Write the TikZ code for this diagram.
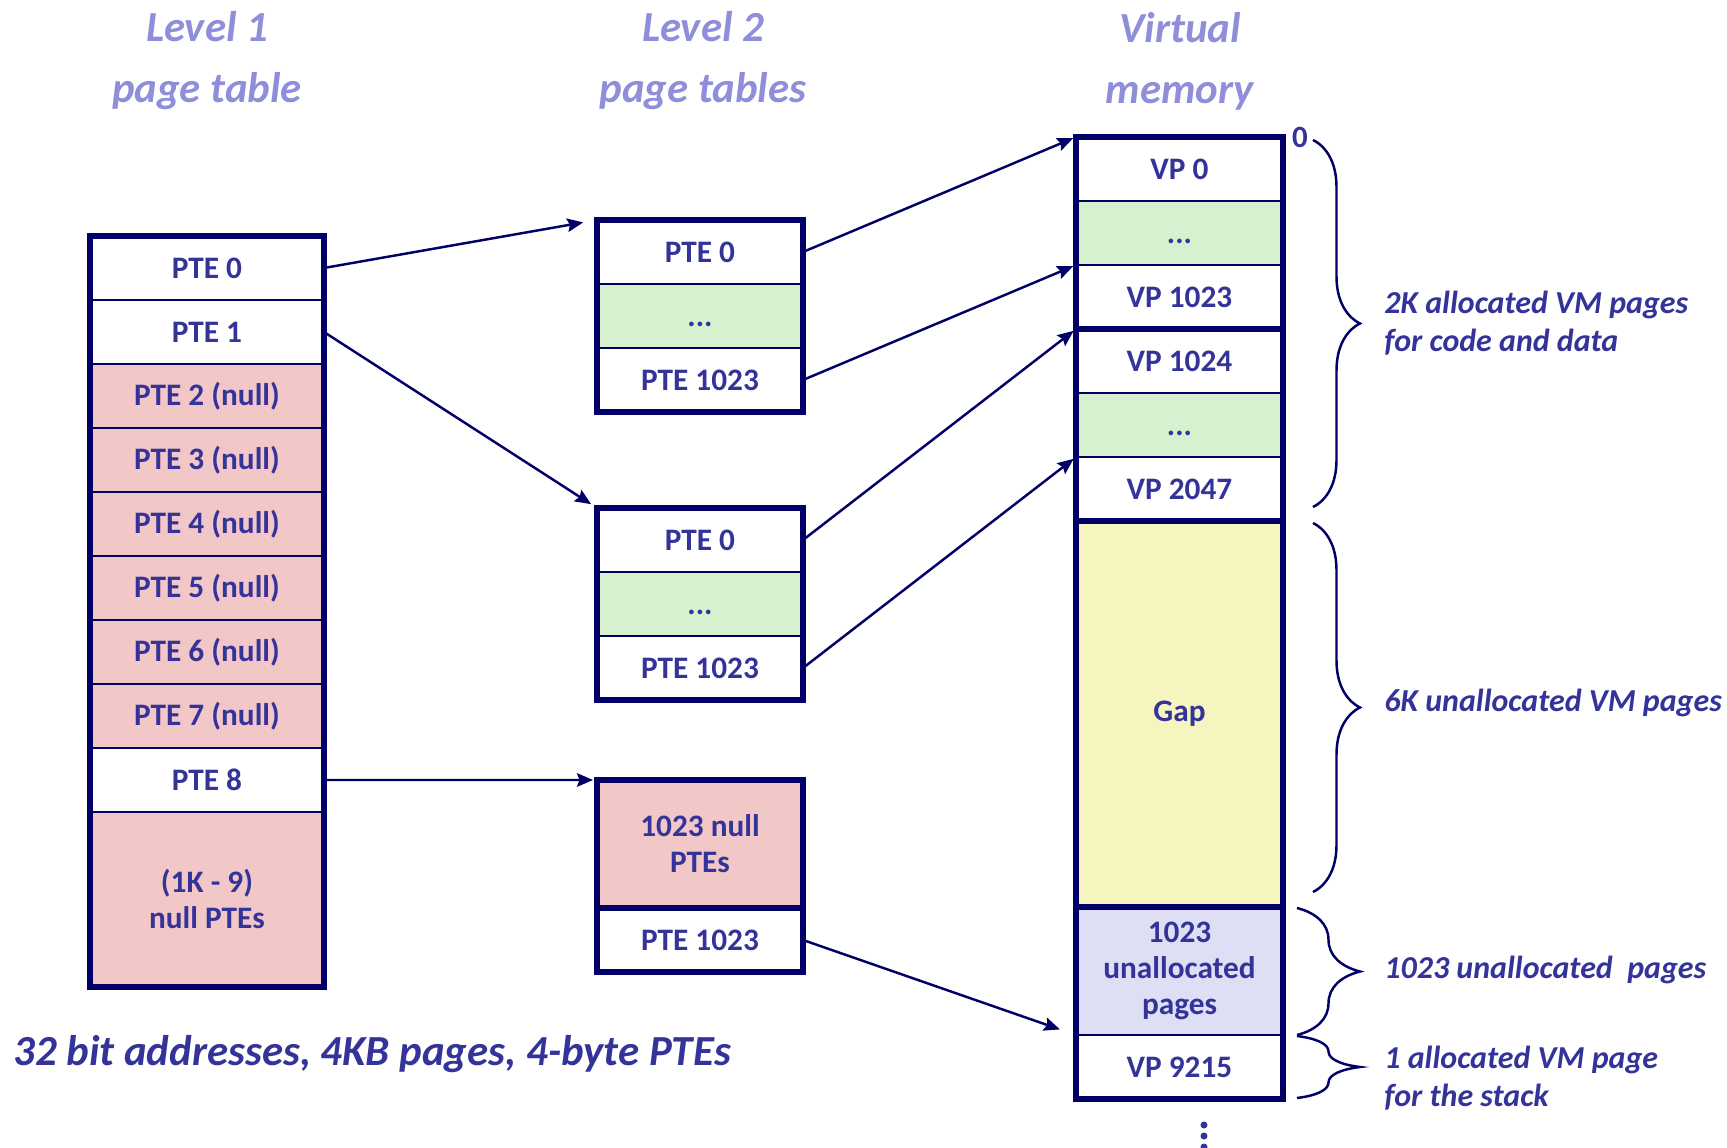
\documentclass[tikz,border=0pt]{standalone}
\usepackage{fontspec}
\setmainfont{Carlito}
\usetikzlibrary{arrows.meta,decorations.pathreplacing}

\definecolor{navy}{HTML}{000066}
\definecolor{txtblue}{HTML}{333399}
\definecolor{headblue}{HTML}{8E8EDA}
\definecolor{nullpink}{HTML}{F2C7C7}
\definecolor{dotsgreen}{HTML}{D6F0D0}
\definecolor{gapyellow}{HTML}{F6F5BF}
\definecolor{unallocblue}{HTML}{DEDEF4}

\newcommand{\skipdots}{\vphantom{P}...}

\tikzset{
  cell/.style={draw=navy, line width=1.5pt, text=txtblue, anchor=north west,
    inner sep=0pt, outer sep=0pt, align=center,
    font=\bfseries\fontsize{17.8}{20.5}\selectfont},
  l1cell/.style={cell, minimum width=4.68cm, minimum height=1.28cm},
  l2cell/.style={cell, minimum width=4.12cm, minimum height=1.28cm},
  vmcell/.style={cell, minimum width=4.14cm, minimum height=1.28cm},
  tblframe/.style={draw=navy, line width=3.7pt},
  link/.style={draw=navy, line width=1.4pt,
    -{Stealth[length=0.32cm, width=0.27cm, inset=0.05cm]}},
  vmbrace/.style={draw=navy, line width=1.4pt, decorate},
  head/.style={text=headblue, align=center,
    font=\bfseries\itshape\fontsize{24.4}{34.7}\selectfont},
  note/.style={text=txtblue, anchor=west, align=left, inner sep=0pt,
    font=\bfseries\itshape\fontsize{18.2}{21.6}\selectfont}
}

\begin{document}
\begin{tikzpicture}[x=0.02cm, y=-0.02cm]
  \useasboundingbox (0,0) rectangle (1727,1148);

  % column titles
  \node[head] (head1) at (207,61) {Level 1\\page table};
  \node[head] (head2) at (703,61) {Level 2\\page tables};
  \node[head] (head3) at (1180,61) {Virtual\\memory};

  % level 1 page table
  \node[l1cell] (l1p0) at (90,236) {PTE 0};
  \node[l1cell] (l1p1) at (90,300) {PTE 1};
  \foreach \i in {2,...,7}
    \node[l1cell, fill=nullpink] (l1p\i) at (90,{236+64*\i}) {PTE \i\ (null)};
  \node[l1cell] (l1p8) at (90,748) {PTE 8};
  \node[l1cell, fill=nullpink, minimum height=3.5cm] (l1rest) at (90,812) {(1K - 9)\\null PTEs};

  % level 2 page tables
  \node[l2cell] (l2a0) at (597,220) {PTE 0};
  \node[l2cell, fill=dotsgreen] (l2a1) at (597,284) {\skipdots};
  \node[l2cell] (l2a2) at (597,348) {PTE 1023};

  \node[l2cell] (l2b0) at (597,508) {PTE 0};
  \node[l2cell, fill=dotsgreen] (l2b1) at (597,572) {\skipdots};
  \node[l2cell] (l2b2) at (597,636) {PTE 1023};

  \node[l2cell, fill=nullpink, minimum height=2.56cm] (l2c0) at (597,780) {1023 null\\PTEs};
  \node[l2cell] (l2c1) at (597,908) {PTE 1023};

  % virtual memory
  \node[vmcell] (vp0) at (1076,137) {VP 0};
  \node[vmcell, fill=dotsgreen] (vpd1) at (1076,201) {\skipdots};
  \node[vmcell] (vp1023) at (1076,265) {VP 1023};
  \node[vmcell] (vp1024) at (1076,329) {VP 1024};
  \node[vmcell, fill=dotsgreen] (vpd2) at (1076,393) {\skipdots};
  \node[vmcell] (vp2047) at (1076,457) {VP 2047};
  \node[vmcell, fill=gapyellow, minimum height=7.72cm] (gap) at (1076,521) {Gap};
  \node[vmcell, fill=unallocblue, minimum height=2.56cm] (unalloc) at (1076,907) {1023\\unallocated\\pages};
  \node[vmcell] (vp9215) at (1076,1035) {VP 9215};

  \foreach \a/\b in {l1p0/l1rest, l2a0/l2a2, l2b0/l2b2, l2c0/l2c0, l2c1/l2c1,
                     vp0/vp1023, vp1024/vp2047, gap/gap, unalloc/vp9215}
    \draw[tblframe] (\a.north west) rectangle (\b.south east);

  % pointers
  \foreach \a/\b/\s in {l1p0/l2a0/0.28cm, l1p1/l2b0/0.14cm, l1p8/l2c0/0.08cm,
                        l2a0/vp0/0.06cm, l2a2/vp1023/0.06cm, l2b0/vp1024/0.06cm,
                        l2b2/vp2047/0.06cm, l2c1/vp9215/0.34cm}
    \draw[link, shorten >=\s] (\a.east) -- (\b.north west);

  % braces and notes
  \node[text=txtblue, font=\bfseries\fontsize{17.6}{20}\selectfont] (zero) at (1300,137) {0};
  \draw[vmbrace, decoration={brace, amplitude=0.94cm}] (1313,140) -- (1313,507);
  \draw[vmbrace, decoration={brace, amplitude=0.94cm}] (1313,523) -- (1313,892);
  \draw[vmbrace, decoration={brace, amplitude=1.26cm}] (1297,908) -- (1297,1035);
  \draw[vmbrace, decoration={brace, amplitude=1.26cm}] (1297,1036) -- (1297,1098);
  \node[note] (note1) at (1384,323) {2K allocated VM pages\\for code and data};
  \node[note] (note2) at (1384,703) {6K unallocated VM pages};
  \node[note] (note3) at (1384,970) {1023 unallocated~ pages};
  \node[note] (note4) at (1384,1078) {1 allocated VM page\\for the stack};

  \foreach \y in {1125,1136,1147}
    \fill[txtblue] (1204,\y) circle (0.07cm);

  \node[text=txtblue, anchor=west, inner sep=0pt, font=\bfseries\itshape\fontsize{24.4}{28}\selectfont]
    (caption) at (13,1054) {32 bit addresses, 4KB pages, 4-byte PTEs};
\end{tikzpicture}
\end{document}
